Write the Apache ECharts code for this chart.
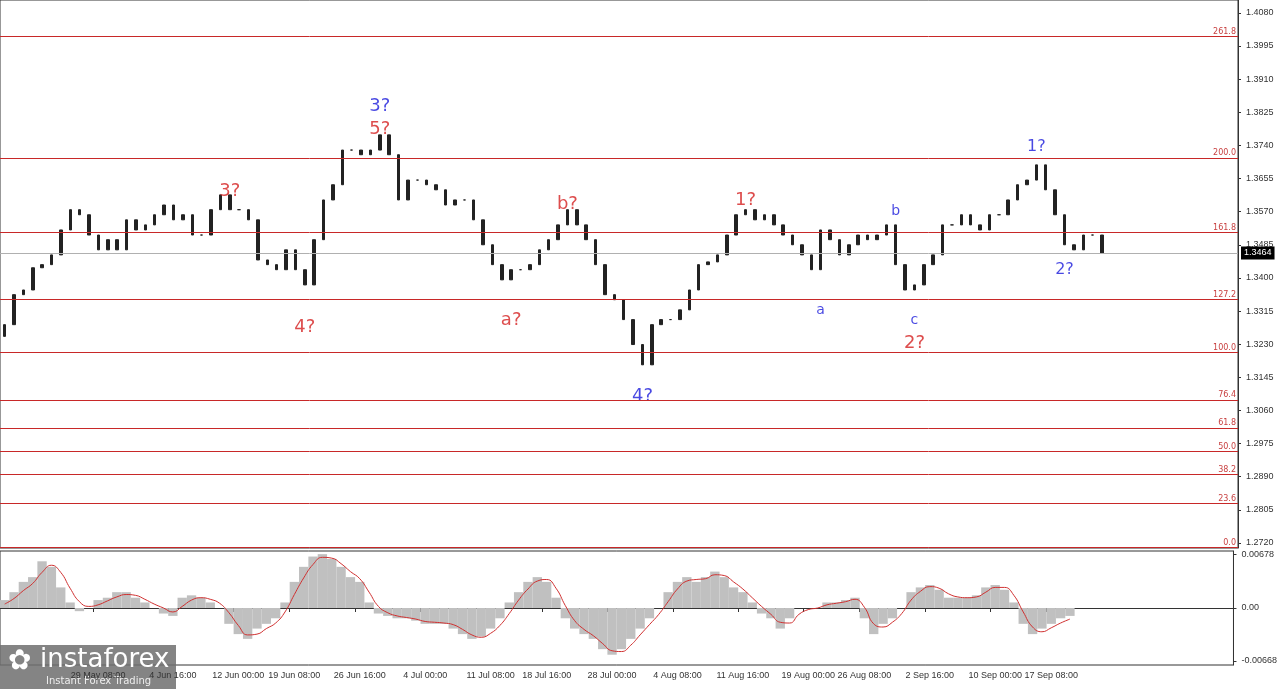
<!DOCTYPE html>
<html>
<head>
<meta charset="utf-8">
<script src="https://cdn.jsdelivr.net/npm/echarts@6/dist/echarts.min.js"></script>
<style>html,body{margin:0;padding:0;background:#fff}#chart{width:1280px;height:689px}</style>
</head>
<body>
<div id="chart"></div>
<script>
// closes of each bar
var closes = [
  1.3280,1.3357,1.3369,1.3426,1.3434,1.3459,1.3523,1.3575,1.3562,1.3510,
  1.3472,1.3498,1.3472,1.3549,1.3523,1.3536,1.3562,1.3587,1.3549,1.3562,
  1.3510,1.3510,1.3575,1.3613,1.3575,1.3575,1.3549,1.3446,1.3434,1.3421,
  1.3472,1.3421,1.3382,1.3498,1.3600,1.3639,1.3728,1.3728,1.3716,1.3728,
  1.3767,1.3716,1.3600,1.3651,1.3651,1.3639,1.3626,1.3587,1.3600,1.3600,
  1.3549,1.3485,1.3434,1.3395,1.3421,1.3421,1.3434,1.3472,1.3498,1.3536,
  1.3575,1.3536,1.3498,1.3434,1.3357,1.3344,1.3293,1.3229,1.3177,1.3280,
  1.3293,1.3293,1.3318,1.3369,1.3434,1.3441,1.3459,1.3510,1.3562,1.3575,
  1.3549,1.3562,1.3536,1.3510,1.3485,1.3459,1.3421,1.3523,1.3498,1.3459,
  1.3485,1.3510,1.3498,1.3510,1.3536,1.3434,1.3369,1.3382,1.3434,1.3459,
  1.3536,1.3536,1.3562,1.3536,1.3523,1.3562,1.3562,1.3600,1.3639,1.3651,
  1.3690,1.3626,1.3562,1.3485,1.3472,1.3510,1.3510,1.3464
];
var opens0 = 1.3250;

var hist = [
  0.0010,0.0020,0.0033,0.0039,0.0059,0.0052,0.0026,0.0007,-0.0004,0,
  0.0010,0.0013,0.0020,0.0020,0.0013,0.0007,0,-0.0007,-0.0010,0.0013,
  0.0016,0.0013,0.0007,0,-0.0020,-0.0033,-0.0039,-0.0026,-0.0020,-0.0013,
  0.0007,0.0033,0.0052,0.0065,0.0068,0.0062,0.0052,0.0039,0.0033,0.0007,
  -0.0007,-0.0010,-0.0013,-0.0013,-0.0016,-0.0020,-0.0020,-0.0020,-0.0026,-0.0033,
  -0.0039,-0.0036,-0.0026,-0.0013,0.0007,0.0020,0.0033,0.0039,0.0033,0.0013,
  -0.0013,-0.0026,-0.0033,-0.0039,-0.0052,-0.0059,-0.0052,-0.0039,-0.0026,-0.0013,
  0,0.0020,0.0033,0.0039,0.0033,0.0039,0.0046,0.0039,0.0026,0.0020,
  0.0007,-0.0007,-0.0013,-0.0026,-0.0013,0,0,0,0.0007,0.0007,
  0.0010,0.0013,-0.0013,-0.0033,-0.0020,-0.0013,0,0.0020,0.0026,0.0029,
  0.0023,0.0013,0.0013,0.0013,0.0016,0.0026,0.0029,0.0023,0.0007,-0.0020,
  -0.0033,-0.0026,-0.0020,-0.0013,-0.0010
];
var signal = [
  0.0005,0.0012,0.0022,0.0031,0.0045,0.0054,0.0045,0.0025,0.0008,0.0002,
  0.0004,0.0009,0.0014,0.0017,0.0016,0.0011,0.0005,0.0000,-0.0005,0.0002,
  0.0010,0.0013,0.0011,0.0006,-0.0006,-0.0022,-0.0034,-0.0033,-0.0026,-0.0019,
  -0.0005,0.0017,0.0038,0.0055,0.0064,0.0063,0.0056,0.0046,0.0037,0.0020,
  0.0002,-0.0006,-0.0010,-0.0012,-0.0014,-0.0017,-0.0018,-0.0019,-0.0021,-0.0027,
  -0.0034,-0.0037,-0.0032,-0.0022,-0.0007,0.0010,0.0024,0.0034,0.0036,0.0025,
  0.0003,-0.0016,-0.0027,-0.0035,-0.0045,-0.0054,-0.0055,-0.0047,-0.0034,-0.0021,
  -0.0008,0.0008,0.0024,0.0034,0.0036,0.0037,0.0042,0.0041,0.0033,0.0024,
  0.0013,0.0002,-0.0008,-0.0018,-0.0019,-0.0008,-0.0002,0.0000,0.0004,0.0006,
  0.0008,0.0011,0.0001,-0.0020,-0.0024,-0.0018,-0.0007,0.0010,0.0021,0.0027,
  0.0025,0.0018,0.0014,0.0013,0.0014,0.0020,0.0026,0.0026,0.0016,-0.0005,
  -0.0024,-0.0030,-0.0025,-0.0019,-0.0014
];

// date labels and the bar they sit under
var dateLabels = ['29 May 08:00','4 Jun 16:00','12 Jun 00:00','19 Jun 08:00','26 Jun 16:00',
  '4 Jul 00:00','11 Jul 08:00','18 Jul 16:00','28 Jul 00:00','4 Aug 08:00','11 Aug 16:00',
  '19 Aug 00:00','26 Aug 08:00','2 Sep 16:00','10 Sep 00:00','17 Sep 08:00'];
var dateIdx = [10,18,25,31,38,45,52,58,65,72,79,86,92,99,106,112];
var priceTicks = [1.2720,1.2805,1.2890,1.2975,1.3060,1.3145,1.3230,1.3315,1.3400,1.3485,1.3570,1.3655,1.3740,1.3825,1.3910,1.3995,1.4080];

var fibLevels = ['261.8','200.0','161.8','127.2','100.0','76.4','61.8','50.0','38.2','23.6','0.0'];
var fibPrices = [1.4019,1.3708,1.3516,1.3344,1.3208,1.3087,1.3015,1.2954,1.2895,1.2821,1.2708];
var lastPrice = 1.3464;

// wave labels: [text, barIndex, price, color, fontSize]
var waveLabels = [
  ['3?',40,1.3839,'#1a1adb',18],['5?',40,1.3780,'#d42020',18],['3?',24,1.3623,'#d42020',18],
  ['4?',32,1.3274,'#d42020',18],['b?',60,1.3590,'#d42020',18],['a?',54,1.3290,'#d42020',18],
  ['4?',68,1.3097,'#1a1adb',18],['1?',79,1.3598,'#d42020',18],['a',87,1.3316,'#1a1adb',14],
  ['b',95,1.3570,'#1a1adb',14],['c',97,1.3290,'#1a1adb',14],['2?',97,1.3231,'#d42020',18],
  ['1?',110,1.3736,'#1a1adb',16],['2?',113,1.3420,'#1a1adb',16]
];

var nPad = 14;
var cats = [], ohlc = [], prev = opens0;
for (var i = 0; i < closes.length + nPad; i++) cats.push(i);
closes.forEach(function (c) {
  ohlc.push([prev, c, Math.min(prev, c), Math.max(prev, c)]);
  prev = c;
});
function isDateTick(idx) { return dateIdx.indexOf(idx) >= 0; }

var fibLines = fibPrices.map(function (p, k) {
  return { yAxis: p, label: { formatter: fibLevels[k] } };
});
var labelData = waveLabels.map(function (w) {
  return { value: [w[1], w[2]], label: { show: true, formatter: w[0], color: w[3], fontSize: w[4] } };
});

var chart = echarts.init(document.getElementById('chart'));
chart.setOption({
  animation: false,
  backgroundColor: '#fff',
  textStyle: { fontFamily: 'DejaVu Sans' },
  grid: [
    { left: 0, right: 42, top: 0, height: 548, show: true, borderColor: '#333', borderWidth: 1 },
    { left: 0, right: 42, top: 551, height: 114, show: true, borderColor: '#333', borderWidth: 1 }
  ],
  xAxis: [
    { type: 'category', data: cats, gridIndex: 0, axisLine: { show: false }, axisTick: { show: false }, axisLabel: { show: false } },
    { type: 'category', data: cats, gridIndex: 1, axisLine: { lineStyle: { color: '#333' } },
      axisTick: { show: true, length: 4, interval: isDateTick },
      axisLabel: { fontSize: 9, fontFamily: 'Liberation Sans', color: '#333', margin: 6, interval: isDateTick, hideOverlap: false,
        formatter: function (v, idx) { var k = dateIdx.indexOf(idx); return k >= 0 ? dateLabels[k] : ''; } } }
  ],
  yAxis: [
    { type: 'value', gridIndex: 0, position: 'right', min: 1.2707, max: 1.4113, splitLine: { show: false },
      axisLine: { show: true, lineStyle: { color: '#333' } },
      axisTick: { show: true, length: 3, customValues: priceTicks },
      axisLabel: { fontSize: 9, fontFamily: 'Liberation Sans', color: '#333', customValues: priceTicks, formatter: function (v) { return v.toFixed(4); } } },
    { type: 'value', gridIndex: 1, position: 'right', min: -0.0072, max: 0.0072, splitLine: { show: false },
      axisLine: { show: true, lineStyle: { color: '#333' } },
      axisTick: { show: true, length: 3, customValues: [-0.00668, 0, 0.00678] },
      axisLabel: { fontSize: 9, fontFamily: 'Liberation Sans', color: '#333', customValues: [-0.00668, 0, 0.00678],
        formatter: function (v) { return v === 0 ? '0.00' : v.toFixed(5); } } }
  ],
  series: [
    { type: 'line', xAxisIndex: 0, yAxisIndex: 0, data: [], silent: true,
      markLine: { symbol: 'none', silent: true, animation: false, precision: 4,
        data: fibLines,
        lineStyle: { color: '#c82828', width: 1, type: 'solid' },
        label: { position: 'insideEndTop', color: '#c84040', fontSize: 8, distance: [2, 1] } } },
    { type: 'line', xAxisIndex: 0, yAxisIndex: 0, data: [], silent: true,
      markLine: { symbol: 'none', silent: true, animation: false, precision: 4,
        data: [{ yAxis: lastPrice }],
        lineStyle: { color: '#b0b0b0', width: 1, type: 'solid' },
        label: { position: 'end', formatter: lastPrice.toFixed(4), color: '#fff', backgroundColor: '#000', fontSize: 9, fontFamily: 'Liberation Sans', padding: [2, 3], distance: 3 } } },
    { type: 'candlestick', xAxisIndex: 0, yAxisIndex: 0, data: ohlc, barWidth: 3,
      itemStyle: { color: '#222', color0: '#222', borderColor: '#222', borderColor0: '#222', borderWidth: 1 } },
    { type: 'scatter', xAxisIndex: 0, yAxisIndex: 0, symbolSize: 0, data: labelData,
      label: { show: true, position: 'inside', fontFamily: 'DejaVu Sans' } },
    { type: 'bar', xAxisIndex: 1, yAxisIndex: 1, data: hist, barWidth: '100%', itemStyle: { color: '#c0c0c0' } },
    { type: 'line', xAxisIndex: 1, yAxisIndex: 1, data: signal, smooth: true, symbol: 'none',
      lineStyle: { color: '#d03030', width: 1 } }
  ],
  graphic: [
    { type: 'rect', left: 0, top: 645, shape: { width: 176, height: 44 }, style: { fill: 'rgba(110,110,110,0.85)' } },
    { type: 'text', left: 40, top: 647, style: { text: 'instaforex', fill: '#fff', font: '26px "DejaVu Sans"' } },
    { type: 'text', left: 46, top: 676, style: { text: 'Instant Forex Trading', fill: '#eee', font: '10px "DejaVu Sans"' } },
    { type: 'text', left: 8, top: 648, style: { text: '✿', fill: '#fff', font: '28px "DejaVu Sans"' } }
  ]
});
</script>
</body>
</html>
